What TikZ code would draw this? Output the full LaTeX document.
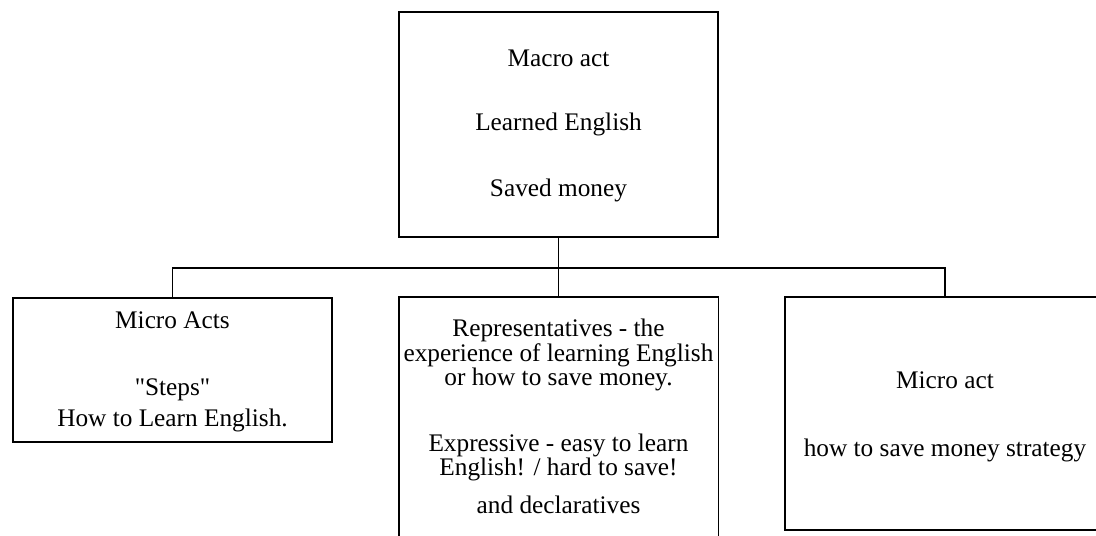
\documentclass[tikz,border=0pt]{standalone}
\usepackage{fontspec}
\setmainfont{Liberation Serif}
\usetikzlibrary{positioning}

\tikzset{
  actbox/.style={draw, line width=1.1pt, inner sep=0pt},
  acttext/.style={font=\fontsize{14.4}{12}\selectfont, inner sep=0pt, align=center},
}

\begin{document}
\begin{tikzpicture}[x=0.02cm, y=-0.02cm]
    %\draw[style=help lines,very thin] (0,0) grid[step=50] (1096,535);
    \useasboundingbox (0,0) rectangle (1096,535);
    \clip (0,0) rectangle (1096,535);

    % boxes
    \node[actbox, minimum width=6.38cm, minimum height=4.5cm] (macro) at (558.5,124.5) {};
    \node[actbox, minimum width=6.38cm, minimum height=2.88cm] (microL) at (172.5,370) {};
    \node[actbox, minimum width=6.4cm, minimum height=5.26cm] (reps) at (558.5,428.5) {};
    \node[actbox, minimum width=6.4cm, minimum height=4.66cm] (microR) at (945,413.5) {};

    % connectors
    \coordinate (bus) at (558.5,268);
    \draw[line width=1.1pt] (macro.south) -- (reps.north);
    \draw[line width=1.1pt] (microL.north) |- (bus) -| (microR.north);

    % texts
    \node[acttext] (macro1) at (558.5,58) {Macro act};
    \node[acttext] (macro2) at (558.5,124) {Learned English};
    \node[acttext] (macro3) at (558.5,190) {Saved money};

    \node[acttext] (microL1) at (172.5,320) {Micro Acts};
    \node[acttext] (microL2) at (172.5,390) {\textquotedbl Steps\textquotedbl};
    \node[acttext] (microL3) at (172.5,420) {How to Learn English.};

    \node[acttext] (reps1) at (558.5,355)
      {Representatives - the\\experience of learning English\\or how to save money.};
    \node[acttext] (expr1) at (558.5,457.5)
      {Expressive - easy to learn\\English! / hard to save!};
    \node[acttext] (decl) at (558.5,505) {and declaratives};

    \node[acttext] (microR1) at (945,380) {Micro act};
    \node[acttext] (microR2) at (945,450) {how to save money strategy};
\end{tikzpicture}
\end{document}
